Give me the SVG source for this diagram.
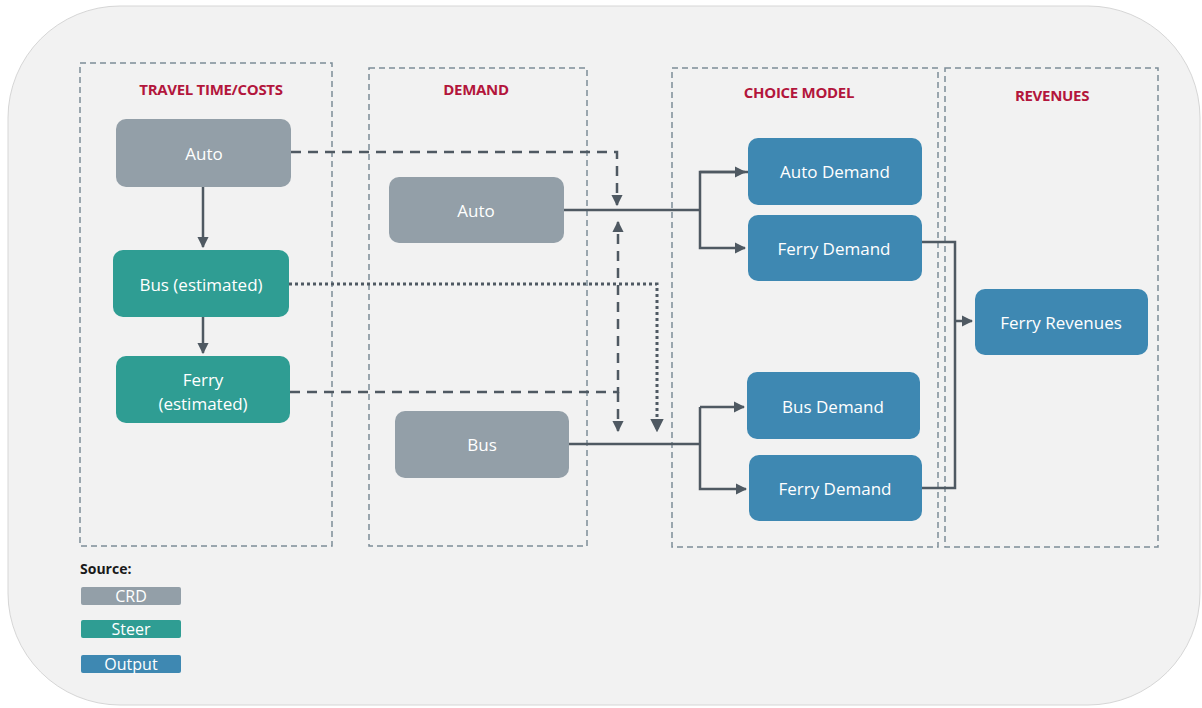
<svg xmlns="http://www.w3.org/2000/svg" width="1202" height="708" viewBox="0 0 1202 708">
<defs>
<marker id="ah" viewBox="0 0 10 10" refX="9" refY="5" markerWidth="4.5" markerHeight="4.5" orient="auto" markerUnits="strokeWidth">
<path d="M0,0 L10,5 L0,10 z" fill="#4f5962"/>
</marker>
<style>
.panel{fill:none;stroke:#7d8d98;stroke-width:1.5;stroke-dasharray:6 4}
.hdr{font-family:"Open Sans","Liberation Sans",sans-serif;font-weight:bold;font-size:15px;fill:#b3163c;text-anchor:middle;letter-spacing:-0.3px}
.gray{fill:#939fa8}
.teal{fill:#2f9d93}
.blue{fill:#3e88b2}
.lbl{font-family:"Open Sans","Liberation Sans",sans-serif;font-size:17px;fill:#ffffff;text-anchor:middle;dominant-baseline:central}
.leg{font-family:"Open Sans","Liberation Sans",sans-serif;font-size:16px;fill:#ffffff;text-anchor:middle;dominant-baseline:central}
.ln{fill:none;stroke:#4f5962;stroke-width:2.5}
.dash{stroke-dasharray:10 7}
.dot{stroke-dasharray:3 3;stroke-width:3}
</style>
</defs>
<rect x="0" y="0" width="1202" height="708" fill="#ffffff"/>
<rect x="8" y="6" width="1192" height="699" rx="112" ry="112" fill="#f2f2f2" stroke="#d6d6d6" stroke-width="1"/>

<g id="panels">
<rect class="panel" x="80" y="63" width="252" height="483"/>
<rect class="panel" x="369" y="68" width="218" height="478"/>
<rect class="panel" x="672" y="68" width="266" height="479"/>
<rect class="panel" x="945" y="68" width="213" height="479"/>
<text class="hdr" x="211" y="95">TRAVEL TIME/COSTS</text>
<text class="hdr" x="476" y="95">DEMAND</text>
<text class="hdr" x="799" y="98">CHOICE MODEL</text>
<text class="hdr" x="1052" y="101">REVENUES</text>
</g>

<g id="connectors">
<path class="ln" d="M203,187 V247" marker-end="url(#ah)"/>
<path class="ln" d="M203,317 V353" marker-end="url(#ah)"/>
<path class="ln dash" d="M291,152 H617 V205" marker-end="url(#ah)"/>
<path class="ln" d="M564,210 H700"/>
<path class="ln" d="M748,172 H700 V248 H745" marker-end="url(#ah)"/>
<path class="ln" d="M700,172 H745" marker-end="url(#ah)"/>
<path class="ln dot" d="M289,284 H657 V431" marker-end="url(#ah)"/>
<path class="ln dash" d="M290,392 H618 V222" marker-end="url(#ah)"/>
<path class="ln dash" d="M618,392 V431" marker-end="url(#ah)"/>
<path class="ln" d="M569,444 H700"/>
<path class="ln" d="M700,407 V489 H746" marker-end="url(#ah)"/>
<path class="ln" d="M700,407 H744" marker-end="url(#ah)"/>
<path class="ln" d="M922,242 H955 V488 H922"/>
<path class="ln" d="M955,321 H972" marker-end="url(#ah)"/>
</g>

<g id="tt-auto"><rect class="gray" x="116" y="119" width="175" height="68" rx="10"/><text class="lbl" x="204" y="153">Auto</text></g>
<g id="tt-bus"><rect class="teal" x="113" y="250" width="176" height="67" rx="10"/><text class="lbl" x="201" y="284">Bus (estimated)</text></g>
<g id="tt-ferry"><rect class="teal" x="116" y="356" width="174" height="67" rx="10"/><text class="lbl" x="203" y="379">Ferry</text><text class="lbl" x="203" y="403">(estimated)</text></g>
<g id="d-auto"><rect class="gray" x="389" y="177" width="175" height="66" rx="10"/><text class="lbl" x="476" y="210">Auto</text></g>
<g id="d-bus"><rect class="gray" x="395" y="411" width="174" height="67" rx="10"/><text class="lbl" x="482" y="444">Bus</text></g>
<g id="c-auto"><rect class="blue" x="748" y="138" width="174" height="67" rx="10"/><text class="lbl" x="835" y="171">Auto Demand</text></g>
<g id="c-ferry1"><rect class="blue" x="748" y="215" width="174" height="66" rx="10"/><text class="lbl" x="834" y="248">Ferry Demand</text></g>
<g id="c-bus"><rect class="blue" x="747" y="372" width="173" height="67" rx="10"/><text class="lbl" x="833" y="406">Bus Demand</text></g>
<g id="c-ferry2"><rect class="blue" x="749" y="455" width="173" height="66" rx="10"/><text class="lbl" x="835" y="488">Ferry Demand</text></g>
<g id="r-ferry"><rect class="blue" x="975" y="289" width="173" height="66" rx="10"/><text class="lbl" x="1061" y="322">Ferry Revenues</text></g>

<g id="legend">
<text x="80" y="574" font-family="Open Sans, Liberation Sans, sans-serif" font-weight="bold" font-size="14" fill="#1a1a1a">Source:</text>
<rect class="gray" x="81" y="587" width="100" height="18" rx="2"/><text class="leg" x="131" y="596">CRD</text>
<rect class="teal" x="81" y="620" width="100" height="18" rx="2"/><text class="leg" x="131" y="629">Steer</text>
<rect class="blue" x="81" y="655" width="100" height="18" rx="2"/><text class="leg" x="131" y="664">Output</text>
</g>
</svg>
